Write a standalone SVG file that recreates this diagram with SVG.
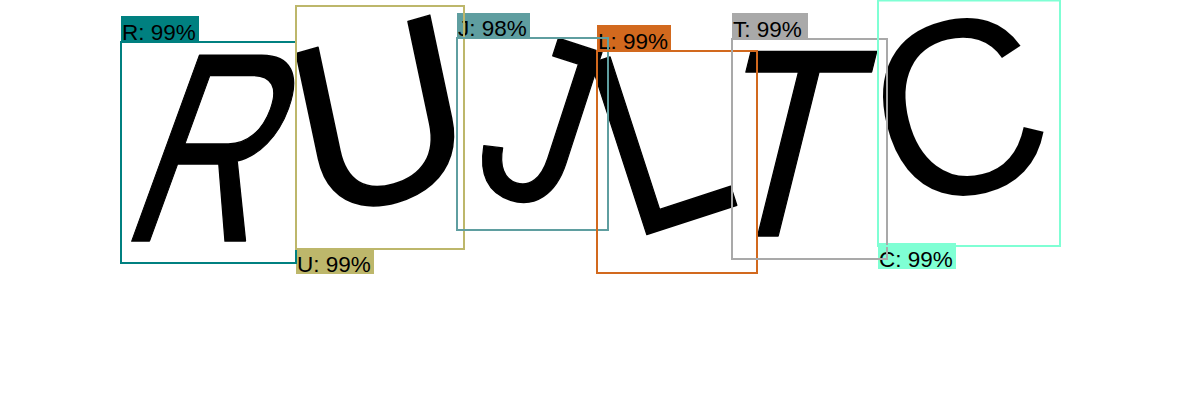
<svg xmlns="http://www.w3.org/2000/svg" width="1200" height="420" viewBox="0 0 1200 420">
<style>
.glyph{font-family:"Liberation Sans",Arial,sans-serif;fill:#000;stroke:#000;stroke-width:1.5;stroke-linejoin:round}
.lbl{font-family:"Liberation Sans",Arial,sans-serif;font-size:22.5px;fill:#000}
.box{fill:none;stroke-width:2}
</style>
<rect width="1200" height="420" fill="#fff"/>
<g id="letters">
<text class="glyph" font-size="270" transform="translate(116,241) skewX(-20) scale(0.71,1)">R</text>
<text class="glyph" font-size="245" transform="translate(313,224) rotate(-16) skewX(-4) scale(1.0,1)">U</text>
<text class="glyph" font-size="255" transform="translate(468,184) rotate(18) scale(0.8,0.95)">J</text>
<text class="glyph" font-size="262" transform="translate(630,240) rotate(-18) scale(0.82,1)">L</text>
<text class="glyph" font-size="268" transform="translate(700,236) skewX(-14) scale(0.83,1)">T</text>
<text class="glyph" font-size="250" style="stroke-width:0" transform="rotate(-14 960 105) translate(872,194) scale(0.95,1)">C</text>
</g>
<g id="labels">
<g id="label-R"><rect x="121" y="16" width="78" height="26" fill="#008080"/><text class="lbl" x="122" y="40">R: 99%</text></g>
<g id="label-U"><rect x="296" y="249" width="78" height="25" fill="#BDB76B"/><text class="lbl" x="297" y="272">U: 99%</text></g>
<g id="label-J"><rect x="457" y="13" width="73" height="25" fill="#5F9EA0"/><text class="lbl" x="458" y="36">J: 98%</text></g>
<g id="label-L"><rect x="597" y="25" width="74" height="26" fill="#D2691E"/><text class="lbl" x="598" y="49">L: 99%</text></g>
<g id="label-T"><rect x="732" y="13" width="76" height="26" fill="#A9A9A9"/><text class="lbl" x="733" y="37">T: 99%</text></g>
<g id="label-C"><rect x="878" y="243" width="78" height="26" fill="#7FFFD4"/><text class="lbl" x="879" y="267">C: 99%</text></g>
</g>
<g id="boxes">
<rect id="box-R" class="box" x="121" y="42" width="175" height="221" stroke="#008080"/>
<rect id="box-U" class="box" x="296" y="6" width="168" height="243" stroke="#BDB76B"/>
<rect id="box-J" class="box" x="457" y="38" width="151" height="192" stroke="#5F9EA0"/>
<rect id="box-L" class="box" x="597" y="51" width="160" height="222" stroke="#D2691E"/>
<rect id="box-T" class="box" x="732" y="39" width="155" height="220" stroke="#A9A9A9"/>
<rect id="box-C" class="box" x="878" y="0.5" width="182" height="245.5" stroke="#7FFFD4"/>
</g>
</svg>
